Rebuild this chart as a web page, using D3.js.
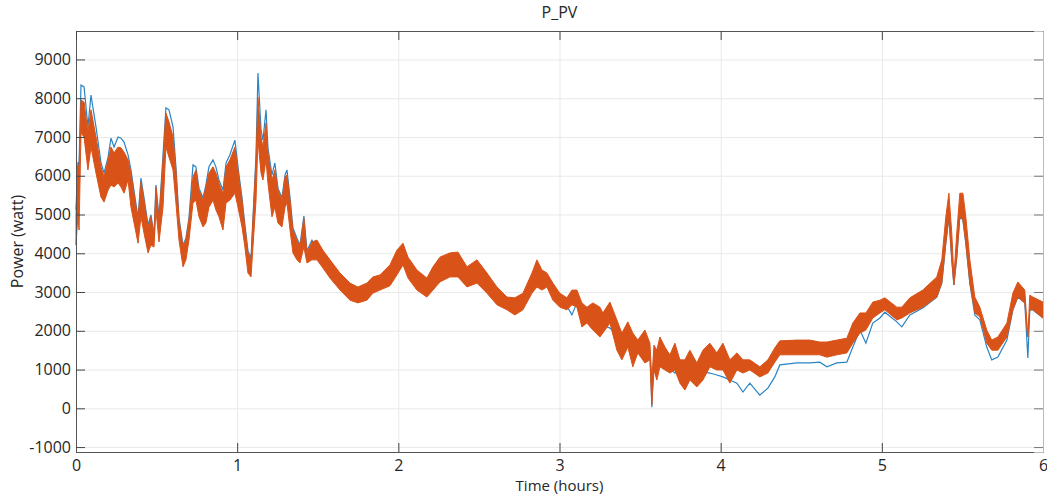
<!DOCTYPE html>
<html lang="en">
<meta charset="utf-8">
<head>
    <title>P_PV</title>
    <script src="https://cdn.jsdelivr.net/npm/d3@7"></script>
    <style>
        body { margin: 0; background: #fff; font-family: "Open Sans", "Noto Sans", sans-serif; }
        .tick text { font-size: 16px; fill: #262626; font-family: "Open Sans", "Noto Sans", sans-serif; }
        .grid line { stroke: #e9e9e9; }
        .grid path { display: none; }
    </style>
</head>
<body>
<script>
    // time in hours
    const timeHours = [0, 0.012, 0.019, 0.031, 0.050, 0.074, 0.093, 0.124, 0.155, 0.174, 0.199, 0.217, 0.236, 0.261, 0.279, 0.298, 0.323, 0.341, 0.385, 0.403,
        0.422, 0.447, 0.465, 0.484, 0.496, 0.515, 0.540, 0.558, 0.577, 0.602, 0.620, 0.639, 0.664, 0.682, 0.701, 0.726, 0.744, 0.763, 0.788, 0.806,
        0.825, 0.850, 0.868, 0.887, 0.912, 0.931, 0.955, 0.986, 1.005, 1.030, 1.048, 1.067, 1.086, 1.098, 1.117, 1.129, 1.148, 1.160, 1.179, 1.191,
        1.216, 1.234, 1.253, 1.278, 1.297, 1.309, 1.328, 1.346, 1.371, 1.390, 1.414, 1.433, 1.464, 1.495, 1.532, 1.576, 1.638, 1.700, 1.749, 1.805,
        1.842, 1.886, 1.948, 1.991, 2.029, 2.060, 2.115, 2.177, 2.215, 2.258, 2.320, 2.370, 2.426, 2.488, 2.550, 2.612, 2.674, 2.723, 2.773, 2.829,
        2.860, 2.891, 2.922, 2.959, 3.002, 3.046, 3.077, 3.108, 3.139, 3.170, 3.207, 3.251, 3.269, 3.313, 3.356, 3.387, 3.424, 3.455, 3.486, 3.530,
        3.561, 3.573, 3.586, 3.604, 3.623, 3.654, 3.685, 3.716, 3.747, 3.778, 3.809, 3.852, 3.890, 3.933, 3.976, 4.014, 4.057, 4.101, 4.138, 4.181,
        4.243, 4.293, 4.336, 4.367, 4.473, 4.553, 4.615, 4.659, 4.721, 4.783, 4.820, 4.864, 4.901, 4.944, 4.988, 5.019, 5.093, 5.124, 5.174, 5.254,
        5.341, 5.372, 5.397, 5.416, 5.434, 5.447, 5.465, 5.484, 5.503, 5.521, 5.546, 5.577, 5.608, 5.651, 5.682, 5.720, 5.776, 5.813, 5.844, 5.887,
        5.906, 5.918, 5.937, 6.0];

    // orange trace (fast oscillation) - upper envelope, watt
    const pvHigh = [4990, 6280, 6150, 7950, 7900, 7130, 7700, 7000, 6230, 5970, 6410, 6740, 6590, 6740, 6720, 6610, 6410, 6070, 4860, 5840,
        5370, 4680, 4940, 4420, 5710, 4860, 6410, 7620, 7390, 7000, 6150, 4860, 4160, 4340, 4860, 5970, 6150, 5630, 5370, 5710,
        6070, 6230, 6070, 5810, 5550, 6230, 6410, 6740, 6150, 5370, 4680, 4010, 3830, 4860, 6410, 8030, 7000, 6740, 7360, 6590,
        5890, 6150, 5630, 5370, 5970, 6020, 5370, 4600, 4340, 4160, 4910, 4010, 4290, 4340, 4080, 3830, 3490, 3230, 3130, 3230,
        3390, 3440, 3700, 4080, 4260, 3900, 3570, 3360, 3650, 3900, 4010, 4030, 3650, 3830, 3490, 3130, 2870, 2850, 2970, 3490,
        3830, 3570, 3490, 3230, 2970, 2850, 3050, 3050, 2720, 2610, 2720, 2610, 2460, 2740, 2280, 1940, 2230, 1940, 1760, 2020,
        1680, 730, 1630, 1500, 1840, 1580, 1380, 1680, 1250, 1250, 1500, 1170, 1500, 1680, 1430, 1680, 1250, 1430, 1250, 1250,
        1070, 1250, 1560, 1740, 1760, 1760, 1710, 1710, 1760, 1810, 2200, 2460, 2460, 2740, 2790, 2850, 2610, 2610, 2850, 3050,
        3390, 3830, 4940, 5550, 4520, 3390, 4520, 5550, 5550, 4940, 3830, 2870, 2610, 2020, 1760, 1840, 2200, 2970, 3260, 3050,
        1840, 2920, 2870, 2740];

    // orange trace - lower envelope, watt
    const pvLow = [4210, 4990, 4600, 7100, 7000, 6150, 6740, 6070, 5450, 5320, 5630, 5760, 5710, 5810, 5710, 5550, 5890, 5190, 4260, 4940,
        4520, 4010, 4210, 4160, 5120, 4290, 5190, 6740, 6480, 6150, 5300, 4340, 3650, 3830, 4340, 5300, 5370, 4940, 4680, 4780,
        5190, 5370, 5120, 4940, 4600, 5300, 5370, 5550, 5190, 4680, 4160, 3490, 3390, 4160, 5370, 6920, 6070, 5890, 6410, 5810,
        4940, 5190, 4780, 4680, 5190, 5300, 4600, 4010, 3830, 3750, 4160, 3750, 3830, 3830, 3620, 3360, 3050, 2790, 2720, 2790,
        2970, 3050, 3160, 3440, 3700, 3360, 3050, 2870, 3050, 3260, 3390, 3390, 3130, 3230, 2970, 2670, 2540, 2410, 2540, 2970,
        3130, 3050, 3130, 2790, 2610, 2540, 2670, 2610, 2100, 2200, 2020, 1840, 1940, 2200, 1500, 1250, 1580, 1070, 1430, 1170,
        1250, 90, 990, 730, 1070, 990, 910, 990, 650, 470, 730, 550, 730, 1070, 990, 990, 650, 990, 910, 990,
        810, 910, 1190, 1380, 1380, 1380, 1380, 1320, 1380, 1430, 1680, 1940, 2020, 2330, 2460, 2540, 2280, 2330, 2460, 2610,
        2870, 3230, 4260, 4940, 3830, 3180, 3900, 4940, 4860, 4260, 3230, 2460, 2360, 1680, 1500, 1500, 1840, 2540, 2870, 2720,
        1840, 2540, 2540, 2330];

    // blue trace, watt
    const pvRef = [5120, 6350, 6280, 8340, 8290, 7260, 8080, 7260, 6330, 6070, 6480, 6970, 6740, 7000, 6970, 6870, 6540, 6150, 4910, 5940,
        5430, 4730, 4990, 4470, 5760, 4910, 6540, 7750, 7700, 7260, 6230, 4910, 4210, 4390, 4910, 6280, 6230, 5680, 5430, 5760,
        6230, 6410, 6230, 5890, 5630, 6330, 6540, 6920, 6230, 5430, 4730, 4060, 3880, 4910, 6540, 8650, 7180, 6920, 7700, 6720,
        6020, 6330, 5680, 5430, 6020, 6150, 5430, 4650, 4390, 4210, 4960, 4060, 4340, 4080, 3850, 3600, 3270, 3010, 2920, 3010,
        3180, 3250, 3430, 3760, 3980, 3630, 3310, 3120, 3350, 3580, 3700, 3710, 3390, 3530, 3230, 2900, 2700, 2630, 2760, 3230,
        3480, 3310, 3310, 3010, 2790, 2640, 2410, 2720, 2540, 2410, 2330, 2230, 2150, 2070, 1890, 1810, 1710, 1680, 1580, 1560,
        1500, 30, 1450, 1300, 1120, 1190, 1040, 910, 940, 990, 940, 860, 940, 910, 860, 810, 730, 650, 420, 650,
        340, 520, 810, 1120, 1170, 1170, 1190, 1070, 1170, 1190, 1580, 2020, 1680, 2200, 2330, 2480, 2230, 2100, 2410, 2590,
        2870, 3230, 4260, 4940, 3830, 3180, 3900, 4940, 4860, 4260, 3230, 2410, 2280, 1580, 1250, 1320, 1760, 2540, 2870, 2720,
        1300, 2540, 2540, 2330];

    const xTicks = [0, 1, 2, 3, 4, 5, 6];
    const yTicks = [-1000, 0, 1000, 2000, 3000, 4000, 5000, 6000, 7000, 8000, 9000];

    const W = 1047, H = 495;
    const margin = { top: 31, right: 4, bottom: 43, left: 76 };
    const width = W - margin.left - margin.right,
        height = H - margin.top - margin.bottom;

    const svg = d3.select("body").append("svg")
        .attr("width", W)
        .attr("height", H);

    const x = d3.scaleLinear().domain([0, 6]).range([0, width]);
    const y = d3.scaleLinear().domain([-1127, 9734]).range([height, 0]);

    const g = svg.append("g")
        .attr("transform", `translate(${margin.left},${margin.top})`);

    // grid
    g.append("g").attr("class", "grid")
        .attr("transform", `translate(0,${height})`)
        .call(d3.axisBottom(x).tickValues(xTicks).tickSize(-height).tickFormat(""));
    g.append("g").attr("class", "grid")
        .call(d3.axisLeft(y).tickValues(yTicks).tickSize(-width).tickFormat(""));

    const data = timeHours.map((t, i) => ({ t: t, hi: pvHigh[i], lo: pvLow[i], ref: pvRef[i] }));

    // blue line drawn first, orange band on top
    g.append("path")
        .datum(data)
        .attr("fill", "none")
        .attr("stroke", "#2a84c4")
        .attr("stroke-width", 1.2)
        .attr("d", d3.line().x(d => x(d.t)).y(d => y(d.ref)));

    g.append("path")
        .datum(data)
        .attr("fill", "#d95319")
        .attr("stroke", "#d95319")
        .attr("stroke-width", 1)
        .attr("stroke-linejoin", "round")
        .attr("d", d3.area().x(d => x(d.t)).y0(d => y(d.lo)).y1(d => y(d.hi)));

    // axes with inward ticks
    const xAxis = g.append("g")
        .attr("transform", `translate(0,${height})`)
        .call(d3.axisBottom(x).tickValues(xTicks).tickSize(-9).tickPadding(5).tickFormat(d3.format("d")));
    const yAxis = g.append("g")
        .call(d3.axisLeft(y).tickValues(yTicks).tickSize(-9).tickPadding(5).tickFormat(d => d));
    const topAxis = g.append("g")
        .call(d3.axisTop(x).tickValues(xTicks).tickSize(-9).tickFormat(""));
    const rightAxis = g.append("g")
        .attr("transform", `translate(${width},0)`)
        .call(d3.axisRight(y).tickValues(yTicks).tickSize(-9).tickFormat(""));

    [xAxis, yAxis, topAxis].forEach(a => {
        a.select(".domain").attr("stroke", "#555");
        a.selectAll(".tick line").attr("stroke", "#444");
    });
    rightAxis.select(".domain").attr("stroke", "#bbb");
    rightAxis.selectAll(".tick line").attr("stroke", "#777");
    xAxis.selectAll(".tick text").attr("dy", "0.85em");

    // title and labels
    svg.append("text")
        .attr("x", margin.left + width / 2)
        .attr("y", 18)
        .attr("text-anchor", "middle")
        .attr("font-size", 16)
        .attr("fill", "#262626")
        .text("P_PV");

    svg.append("text")
        .attr("x", margin.left + width / 2)
        .attr("y", 491)
        .attr("text-anchor", "middle")
        .attr("font-size", 15)
        .attr("fill", "#262626")
        .text("Time (hours)");

    svg.append("text")
        .attr("transform", `translate(23,${margin.top + height / 2}) rotate(-90)`)
        .attr("text-anchor", "middle")
        .attr("font-size", 16)
        .attr("fill", "#262626")
        .text("Power (watt)");
</script>
</body>
</html>
